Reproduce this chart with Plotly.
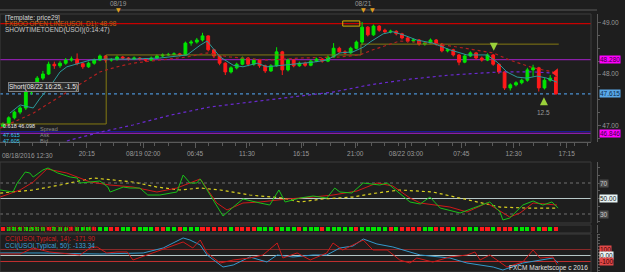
import plotly.graph_objects as go

# ---------------- data ----------------
opens = [46.98, 47.03, 47.15, 47.26, 47.34, 47.65, 47.73, 47.92, 48.00, 48.19,
         48.16, 48.21, 48.27, 48.29, 48.20, 48.14, 48.21, 48.27, 48.35, 48.27,
         48.28, 48.33, 48.31, 48.29, 48.31, 48.29, 48.27, 48.31, 48.35, 48.37,
         48.38, 48.39, 48.37, 48.60, 48.62, 48.66, 48.74, 48.47, 48.35, 48.21,
         48.04, 48.12, 48.19, 48.31, 48.19, 48.27, 48.16, 48.06, 48.16, 48.43,
         48.08, 48.27, 48.16, 48.21, 48.17, 48.25, 48.29, 48.25, 48.33, 48.50,
         48.43, 48.41, 48.50, 48.62, 48.91, 48.76, 48.93, 48.85, 48.82, 48.83,
         48.78, 48.70, 48.64, 48.66, 48.58, 48.60, 48.66, 48.58, 48.45, 48.47,
         48.37, 48.23, 48.35, 48.41, 48.31, 48.27, 48.37, 48.19, 48.04, 47.73,
         47.79, 47.83, 47.88, 48.08, 48.12, 47.73, 47.88, 47.94]
closes = [47.03, 47.15, 47.26, 47.34, 47.65, 47.73, 47.92, 48.00, 48.19, 48.16,
          48.21, 48.27, 48.29, 48.20, 48.14, 48.21, 48.27, 48.35, 48.27, 48.28,
          48.33, 48.31, 48.29, 48.31, 48.29, 48.27, 48.31, 48.35, 48.37, 48.38,
          48.39, 48.37, 48.60, 48.62, 48.66, 48.74, 48.47, 48.35, 48.21, 48.04,
          48.12, 48.19, 48.31, 48.19, 48.27, 48.16, 48.06, 48.16, 48.43, 48.08,
          48.27, 48.16, 48.21, 48.17, 48.25, 48.29, 48.25, 48.33, 48.50, 48.43,
          48.41, 48.50, 48.62, 48.91, 48.76, 48.93, 48.85, 48.82, 48.83, 48.78,
          48.70, 48.64, 48.66, 48.58, 48.60, 48.66, 48.58, 48.45, 48.47, 48.37,
          48.23, 48.35, 48.41, 48.31, 48.27, 48.37, 48.19, 48.04, 47.73, 47.79,
          47.83, 47.88, 48.08, 48.12, 47.73, 47.88, 47.92, 47.615]
highs = [47.06, 47.18, 47.29, 47.38, 47.69, 47.78, 47.96, 48.06, 48.24, 48.24,
         48.25, 48.31, 48.34, 48.40, 48.23, 48.24, 48.30, 48.38, 48.37, 48.31,
         48.36, 48.35, 48.33, 48.34, 48.33, 48.31, 48.34, 48.38, 48.40, 48.41,
         48.42, 48.41, 48.63, 48.66, 48.70, 48.80, 48.75, 48.49, 48.37, 48.23,
         48.15, 48.22, 48.34, 48.33, 48.30, 48.29, 48.18, 48.19, 48.52, 48.45,
         48.30, 48.29, 48.24, 48.24, 48.28, 48.32, 48.31, 48.36, 48.60, 48.53,
         48.46, 48.53, 48.65, 49.01, 48.93, 48.96, 48.95, 48.88, 48.86, 48.85,
         48.80, 48.72, 48.69, 48.68, 48.63, 48.69, 48.68, 48.60, 48.50, 48.49,
         48.39, 48.38, 48.44, 48.43, 48.34, 48.40, 48.39, 48.21, 48.06, 47.82,
         47.86, 47.91, 48.12, 48.18, 48.14, 47.92, 47.98, 47.95]
lows = [46.95, 47.01, 47.12, 47.22, 47.30, 47.60, 47.70, 47.88, 47.98, 48.10,
        48.12, 48.18, 48.24, 48.17, 48.10, 48.12, 48.18, 48.25, 48.22, 48.24,
        48.26, 48.28, 48.26, 48.27, 48.26, 48.24, 48.25, 48.29, 48.33, 48.35,
        48.36, 48.34, 48.36, 48.55, 48.59, 48.63, 48.44, 48.31, 48.17, 47.98,
        48.01, 48.09, 48.17, 48.15, 48.16, 48.12, 48.02, 48.04, 48.14, 47.98,
        48.05, 48.13, 48.14, 48.14, 48.15, 48.23, 48.22, 48.23, 48.31, 48.40,
        48.38, 48.39, 48.48, 48.56, 48.73, 48.74, 48.82, 48.79, 48.79, 48.75,
        48.67, 48.61, 48.61, 48.55, 48.55, 48.58, 48.55, 48.42, 48.42, 48.34,
        48.17, 48.21, 48.33, 48.28, 48.24, 48.25, 48.16, 48.00, 47.69, 47.68,
        47.76, 47.80, 47.85, 47.95, 47.66, 47.70, 47.85, 47.60]
candle_t = list(range(len(closes)))

# moving averages (time index, price)
ma_fast_t = [1.2, 3.0, 5.3, 6.5, 8.2, 10, 11.2, 13.5, 15.3, 18.2, 22.8, 27.5, 32.3, 34.6, 35.8,
             38.1, 40.4, 42.1, 44.6, 46.3, 49.1, 51.6, 54.4, 56.8, 59.1, 61.4, 63.2, 64.4, 66.7,
             68.4, 70.2, 72.6, 75.4, 78.4, 81.4, 84.9, 86.7, 88.4, 90.2, 91.9, 93.7, 95.4, 97.2]
ma_fast_v = [47.24, 47.40, 47.34, 47.53, 47.75, 48.04, 48.14, 48.21, 48.27, 48.29, 48.29, 48.31,
             48.37, 48.56, 48.64, 48.33, 48.17, 48.14, 48.21, 48.14, 48.17, 48.21, 48.23, 48.27,
             48.41, 48.43, 48.52, 48.62, 48.78, 48.82, 48.76, 48.66, 48.60, 48.47, 48.37, 48.37,
             48.23, 48.04, 47.94, 47.92, 47.96, 47.92, 47.84]
ma_mid_t = [-0.5, 5.3, 8.2, 11.2, 14, 17, 20, 22.8, 25.8, 28.8, 32.3, 35.8, 39.8, 46.3, 52.1,
            59.1, 62.6, 64.9, 67.4, 69.6, 75.4, 81.4, 86, 88.9, 93, 96.5]
ma_mid_v = [46.95, 47.24, 47.44, 47.65, 47.84, 48.04, 48.14, 48.21, 48.25, 48.29, 48.33, 48.41,
            48.33, 48.27, 48.31, 48.33, 48.37, 48.47, 48.56, 48.64, 48.60, 48.50, 48.41, 48.27,
            48.12, 48.04]
ma_slow_t = [11.2, 17, 22.8, 29.3, 36.3, 46.3, 57.9, 64.4, 71.4, 78.4, 87.2, 93, 96.5]
ma_slow_v = [46.70, 46.87, 47.01, 47.20, 47.36, 47.50, 47.65, 47.79, 47.90, 47.98, 48.04, 48.04, 48.02]

# previous-session range step line
range_t = [-0.5, 18.1, 18.1, 62.8, 62.8, 97.5]
range_v = [47.03, 47.03, 48.37, 48.37, 48.58, 48.58]

# horizontal levels
open_level = 48.98
pivot_level = 48.28
bid_level = 47.615
blue_level = 46.88
low_level = 46.846

# trade signals
sig_t = [86.1, 94.9, 97.0]
sig_v = [48.45, 47.55, 48.02]
sig_sym = ["arrow-down", "arrow-up", "triangle-left"]
sig_col = ["#9ad13a", "#9ad13a", "#ff2020"]
sig_note_t, sig_note_v, sig_note = 94.9, 47.25, "12.5"
box_mark = [59.6, 62.6, 48.93, 49.03]

# RSI-type oscillator
osc_fast_t = [-0.5, 1.75, 2.5, 3.9, 4.7, 5.3, 7.0, 7.9, 9.6, 11.8, 13, 13.5, 15.3, 17, 18.4, 18.8,
              21.1, 22.3, 24, 25.4, 27.5, 30.5, 31.6, 32.8, 34, 34.6, 35.8, 37.2, 38.6, 40.4, 42.1,
              45.1, 46.8, 48.4, 49.5, 52.1, 54.4, 56.8, 58.2, 59.1, 61.2, 63.2, 66.1, 67.4, 69.6,
              71.4, 73.2, 74.9, 76.7, 80.2, 82.5, 85.4, 87.2, 87.7, 88.9, 91.2, 93, 94.7, 96.3, 97.4]
osc_fast_v = [61, 58.4, 70, 84.2, 82.9, 77.7, 86.8, 89.4, 82.9, 77.7, 76.5, 70, 71.3, 72.6, 64.8, 58.4,
              64.8, 63.5, 63.5, 54.5, 54.5, 58.4, 80.3, 70, 70, 75.2, 61, 44.2, 27.4, 39, 49.4,
              44.2, 41.6, 61, 45.5, 50.6, 53.2, 50.6, 63.5, 58.4, 57.1, 70, 67.4, 70, 57.1,
              45.5, 42.9, 51.9, 37.7, 31.3, 37.7, 45.5, 32.6, 22.3, 24.8, 41.6, 46.8, 41.6, 45.5, 37.7]
osc_slow_t = [-0.5, 3.0, 5.3, 7.7, 11.2, 15.3, 18.8, 22.8, 27, 30.5, 34.6, 37.5, 39.3, 42.1, 45.1,
              49.8, 54.4, 57.9, 62.1, 65.6, 68.4, 71.4, 73.2, 78.4, 81.4, 84.9, 88.9, 90.7, 93, 97.2]
osc_slow_v = [51.9, 61, 71.3, 88.1, 82.9, 71.3, 67.4, 64.8, 58.4, 63.5, 75.2, 44.2, 35.2, 44.2, 45.5,
              49.4, 51.9, 54.5, 59.7, 70, 66.1, 50.6, 44.2, 39, 32.6, 44.2, 26.1, 31.3, 44.2, 41.6]
osc_sig_t = [-0.5, 5.3, 10, 15.8, 22.8, 27, 31, 34.6, 38.1, 43.3, 49.1, 52.1, 56.1, 61.4, 65.6,
             69.6, 75.4, 81.4, 87.2, 91.9, 97.4]
osc_sig_v = [57, 61, 67.4, 76.5, 71.3, 64.8, 61, 63.5, 61, 54.5, 50.6, 45.5, 49.4, 51.9, 57.1,
             61, 58.4, 48.1, 39, 37.7, 37.7]
osc_levels = [70, 50, 30]
osc_labels = ["70", "50.00", "30"]

# signal strip (per candle, G = bullish, R = bearish)
ha_signal = ("RGGGGGGGRG" "GGRGGGRGGR" "RGGRGGGRRG" "GRGGGRRRRR" "GRRRRGGGRG"
             "GGRGGGRGGG" "GGRGGGGGRG" "RRRRGGRRRG" "RRGGRRGRRR" "GGGRGRGR")

# CCI
cci14_t = [-0.5, 3.0, 5.3, 8.2, 13.5, 15.3, 16.5, 18.2, 20, 21.8, 22.8, 27.5, 31.6, 33.3, 34.6,
           35.8, 38.1, 40.4, 43.3, 45.6, 48.1, 49.1, 51.6, 53.9, 56.8, 57.9, 59.6, 62.1, 63.2,
           64.9, 67.4, 69.6, 71.4, 72.6, 75.4, 78.4, 81.4, 82.8, 83.7, 85.4, 88.4, 91.2, 93,
           94.2, 96.5, 97.2]
cci14_v = [25, 25, 125, 58, 8, 125, 142, 42, 58, 58, -75, 92, 225, 125, 258,
           42, -125, -75, -42, 8, 208, -42, 42, -75, 42, 208, 92, 208, 258,
           92, 92, -75, -125, -42, -108, -25, 8, 58, -75, 8, -192, -108, 92,
           -42, -25, -158]
cci50_t = [-0.5, 6.5, 17, 24.6, 28.1, 31.6, 32.8, 34.6, 35.8, 38.6, 40.4, 43.3, 46.3, 48.1, 50.9,
           54.4, 56.8, 59.1, 61.4, 63.2, 65.6, 68.4, 71.4, 73.2, 78.4, 81.4, 86, 87.7, 91.2,
           94.2, 96.5, 97.4]
cci50_v = [42, 42, 25, 42, 125, 292, 258, 175, 8, -192, -158, -25, -108, 8, -25,
           8, 8, 125, 158, 275, 192, 142, 58, 8, -42, -125, -192, -242, -125,
           -75, -42, -125]
cci_levels = [100, 0, -100]
cci_labels = ["100", "0.00", "-100"]

# axis labels
first_tick_text = "08/18/2016 12:30"
tick_t = [14.7, 24.6, 33.7, 42.8, 52.3, 61.8, 70.7, 80.4, 89.6, 98.9]
tick_text = ["20:15", "08/19 02:00", "06:45", "11:30", "16:15",
             "21:00", "08/22 03:00", "07:45", "12:30", "17:15"]
day_t = [20.2, 63.2]
day_text = ["08/19", "08/21"]
event_t = [20.2, 63.2, 64.9]

# ---------------- styling ----------------
W, H = 625, 272
BG = "#1e1e1e"
BORDER = "#3c3c3c"
AXC = "#5a5a5a"
TXT = "#9a9a9a"
GREEN = "#00e600"
RED = "#ff1a1a"
FONT = "Liberation Sans"
FS = 6.5
XR = [-0.53, 103.16]
XDOM = [0, 591 / W]
AXPOS = 597 / W


def py(p):
    return 1 - p / H


fig = go.Figure()

# main panel
fig.add_trace(go.Candlestick(
    x=candle_t, open=opens, high=highs, low=lows, close=closes,
    increasing=dict(line=dict(color=GREEN, width=1), fillcolor=GREEN),
    decreasing=dict(line=dict(color=RED, width=1), fillcolor=RED),
    whiskerwidth=0, showlegend=False, hoverinfo="skip", xaxis="x", yaxis="y"))

fig.add_trace(go.Scatter(x=range_t, y=range_v, mode="lines",
                         line=dict(color="#857a12", width=1), xaxis="x", yaxis="y", hoverinfo="skip"))
fig.add_trace(go.Scatter(x=ma_slow_t, y=ma_slow_v, mode="lines",
                         line=dict(color="#6a2ad0", width=1.2, dash="dot"), xaxis="x", yaxis="y"))
fig.add_trace(go.Scatter(x=ma_mid_t, y=ma_mid_v, mode="lines",
                         line=dict(color="#b02020", width=1.2, dash="dot"), xaxis="x", yaxis="y"))
fig.add_trace(go.Scatter(x=ma_fast_t, y=ma_fast_v, mode="lines",
                         line=dict(color="#2a9a9a", width=1), xaxis="x", yaxis="y"))
for s, v, sym, c in zip(sig_t, sig_v, sig_sym, sig_col):
    fig.add_trace(go.Scatter(x=[s], y=[v], mode="markers",
                             marker=dict(symbol=sym, size=8, color=c, line=dict(width=0)),
                             xaxis="x", yaxis="y"))

# oscillator
fig.add_trace(go.Scatter(x=osc_sig_t, y=osc_sig_v, mode="lines",
                         line=dict(color="#d8d020", width=1.2, dash="dot"), xaxis="x2", yaxis="y2"))
fig.add_trace(go.Scatter(x=osc_slow_t, y=osc_slow_v, mode="lines",
                         line=dict(color="#d01818", width=1), xaxis="x2", yaxis="y2"))
fig.add_trace(go.Scatter(x=osc_fast_t, y=osc_fast_v, mode="lines",
                         line=dict(color="#19c019", width=1), xaxis="x2", yaxis="y2"))

# strip
fig.add_trace(go.Bar(x=candle_t, y=[1 for _ in ha_signal], base=0,
                     marker=dict(color=[GREEN if c == "G" else RED for c in ha_signal], line=dict(width=0)),
                     width=0.72, xaxis="x3", yaxis="y3", hoverinfo="skip"))

# CCI
fig.add_trace(go.Scatter(x=cci50_t, y=cci50_v, mode="lines",
                         line=dict(color="#3399cc", width=1), xaxis="x4", yaxis="y4"))
fig.add_trace(go.Scatter(x=cci14_t, y=cci14_v, mode="lines",
                         line=dict(color="#cc1a1a", width=1), xaxis="x4", yaxis="y4"))

shapes = []
ann = []

# main horizontal levels
for lvl, col, dash, w in [(open_level, "#c80000", "solid", 1.2), (pivot_level, "#8a1fa8", "solid", 1.2),
                          (bid_level, "#4a8fd0", "dot", 1.2), (blue_level, "#1a1ab0", "solid", 1),
                          (low_level, "#8a1fa8", "solid", 1.2)]:
    shapes.append(dict(type="line", xref="x domain", yref="y", x0=0, x1=1, y0=lvl, y1=lvl,
                       line=dict(color=col, width=w, dash=dash), layer="below"))
shapes.append(dict(type="rect", xref="x", yref="y", x0=box_mark[0], x1=box_mark[1],
                   y0=box_mark[2], y1=box_mark[3], line=dict(color="#d4b000", width=1)))

# oscillator levels
for lvl in osc_levels:
    if lvl == 50:
        shapes.append(dict(type="line", xref="x2 domain", yref="y2", x0=0, x1=1, y0=lvl, y1=lvl,
                           line=dict(color="#b8c8c8", width=1), layer="below"))
    else:
        shapes.append(dict(type="line", xref="x2 domain", yref="y2", x0=0, x1=1, y0=lvl, y1=lvl,
                           line=dict(color="#707070", width=1, dash="dot"), layer="below"))
for lvl, col in zip(cci_levels, ["#8a2a2a", "#b8c8c8", "#c03030"]):
    shapes.append(dict(type="line", xref="x4 domain", yref="y4", x0=0, x1=1, y0=lvl, y1=lvl,
                       line=dict(color=col, width=1), layer="below"))

# panel borders
for xa, ya in [("x", "y"), ("x2", "y2"), ("x3", "y3"), ("x4", "y4")]:
    shapes.append(dict(type="rect", xref=f"{xa} domain", yref=f"{ya} domain", x0=0, x1=1, y0=0, y1=1,
                       line=dict(color=BORDER, width=1), layer="below"))

# top date strip
shapes.append(dict(type="line", xref="paper", yref="paper", x0=0, x1=AXPOS, y0=py(10), y1=py(10),
                   line=dict(color=AXC, width=1)))
for d, t in zip(day_t, day_text):
    ann.append(dict(x=d, y=py(4), xref="x", yref="paper", text=t, showarrow=False,
                    font=dict(color=TXT, size=FS, family=FONT), xanchor="center", yanchor="middle"))
for e in event_t:
    ann.append(dict(x=e, y=py(9.5), xref="x", yref="paper", text="▼", showarrow=False,
                    font=dict(color="#e0a020", size=6, family="DejaVu Sans"), xanchor="center",
                    yanchor="middle"))


def txt(px, pyy, s, color, size=FS, anchor="left", **kw):
    d = dict(x=px / W, y=py(pyy), xref="paper", yref="paper", text=s, showarrow=False,
             font=dict(color=color, size=size, family=FONT), xanchor=anchor, yanchor="middle")
    d.update(kw)
    ann.append(d)


txt(0, 155, first_tick_text, TXT)
txt(3, 18, "[Template: price29]", "#d8d8d8")
txt(3, 24, "FXBOO OPEN LINE(USOI, D1): 48.98", "#c86414")
txt(3, 30, "SHOWTIMETOEND(USOI)(0:14:47)", "#c8c8c8")
txt(8, 87, "Short(08/22 16:25, -1.5)", "#e8e8e8", bgcolor="#2c2c2c", bordercolor="#808080",
    borderwidth=1, borderpad=0)
txt(1, 125.5, "0.618 46.098", "#e8e8e8", size=5.5)
txt(38, 129.4, "Spread", "#8a8a8a", size=5.5)
txt(1, 135.3, "47.615", "#30c8f0", size=5.5)
txt(38, 135.3, "Ask", "#8a8a8a", size=5.5)
txt(1, 141.2, "47.605", "#30c8f0", size=5.5)
txt(38, 141.2, "Bid", "#8a8a8a", size=5.5)
ann.append(dict(x=sig_note_t, y=sig_note_v, xref="x", yref="y", text=sig_note, showarrow=False,
                font=dict(color=TXT, size=FS, family=FONT)))

# right price boxes
for lvl, s, bg, fc in [(pivot_level, "48.280", "#ff00ff", "#3a003a"),
                       (bid_level, "47.615", "#5aa8e8", "#0a2a4a"),
                       (low_level, "46.846", "#ff00ff", "#3a003a")]:
    ann.append(dict(x=AXPOS + 0.003, y=lvl, xref="paper", yref="y", text=s, showarrow=False,
                    bgcolor=bg, borderpad=0, font=dict(color=fc, size=FS, family=FONT),
                    xanchor="left", yanchor="middle"))

for lvl, s in zip(osc_levels, osc_labels):
    if lvl == 50:
        bg, fc = "#e8f4f4", "#202020"
    else:
        bg, fc = "#4a4a4a", "#c8c8c8"
    ann.append(dict(x=AXPOS + 0.003, y=lvl, xref="paper", yref="y2", text=s, showarrow=False,
                    bgcolor=bg, borderpad=0, font=dict(color=fc, size=FS, family=FONT),
                    xanchor="left", yanchor="middle"))
for lvl, s in zip(cci_levels, cci_labels):
    if lvl == 0:
        bg, fc = "#e8f4f4", "#202020"
    else:
        bg, fc = "#e04848", "#3a0000"
    ann.append(dict(x=AXPOS + 0.003, y=lvl, xref="paper", yref="y4", text=s, showarrow=False,
                    bgcolor=bg, borderpad=0, font=dict(color=fc, size=FS, family=FONT),
                    xanchor="left", yanchor="middle"))

txt(3, 228.5, "HEIKIN ASHI(USOI)(600): 1.00", "#8a1010")
txt(3, 239, "CCI(USOI,Typical, 14): -171.90", "#d02020")
txt(3, 246, "CCI(USOI,Typical, 50): -133.34", "#3aa0d8")
txt(590, 268, "FXCM Marketscope c 2016", "#e0e0e0", anchor="right")

common_x = dict(range=XR, domain=XDOM, showgrid=False, zeroline=False, fixedrange=True)
common_y = dict(showgrid=False, zeroline=False, side="right", anchor="free", position=AXPOS,
                showline=True, linecolor=AXC, linewidth=1, ticks="outside", ticklen=3,
                tickcolor=AXC, tickfont=dict(color=TXT, size=FS, family=FONT))

fig.update_layout(
    width=W, height=H, margin=dict(l=0, r=0, t=0, b=0),
    paper_bgcolor=BG, plot_bgcolor=BG, showlegend=False, bargap=0,
    font=dict(family=FONT, size=FS, color=TXT),
    xaxis=dict(**common_x, anchor="y", rangeslider=dict(visible=False), tickmode="array",
               tickvals=tick_t, ticktext=tick_text, ticks="outside", ticklen=5, tickcolor=AXC,
               showline=True, linecolor=AXC, tickfont=dict(color=TXT, size=FS, family=FONT),
               minor=dict(ticks="outside", ticklen=3, tickcolor=AXC, tick0=5.2, dtick=2.375)),
    yaxis=dict(**common_y, domain=[py(142), py(14)], range=[46.68, 49.165],
               tickvals=[47, 48, 49], ticktext=["47.00", "48.00", "49.00"],
               minor=dict(ticks="outside", ticklen=2, tickcolor=AXC, dtick=0.25)),
    xaxis2=dict(**common_x, anchor="y2", showticklabels=False, matches="x"),
    yaxis2=dict(**common_y, domain=[py(223), py(162)], range=[18.4, 97.1], tickvals=[],
                minor=dict(ticks="outside", ticklen=2, tickcolor=AXC, dtick=10)),
    xaxis3=dict(**common_x, anchor="y3", showticklabels=False, matches="x"),
    yaxis3=dict(**common_y, domain=[py(233), py(225)], range=[-0.6, 1.6], tickvals=[]),
    xaxis4=dict(**common_x, anchor="y4", showticklabels=False, matches="x"),
    yaxis4=dict(**common_y, domain=[0, py(234)], range=[-275, 358], tickvals=[],
                minor=dict(ticks="outside", ticklen=2, tickcolor=AXC, dtick=50)),
    shapes=shapes, annotations=ann,
)

fig.write_html("out.html")
